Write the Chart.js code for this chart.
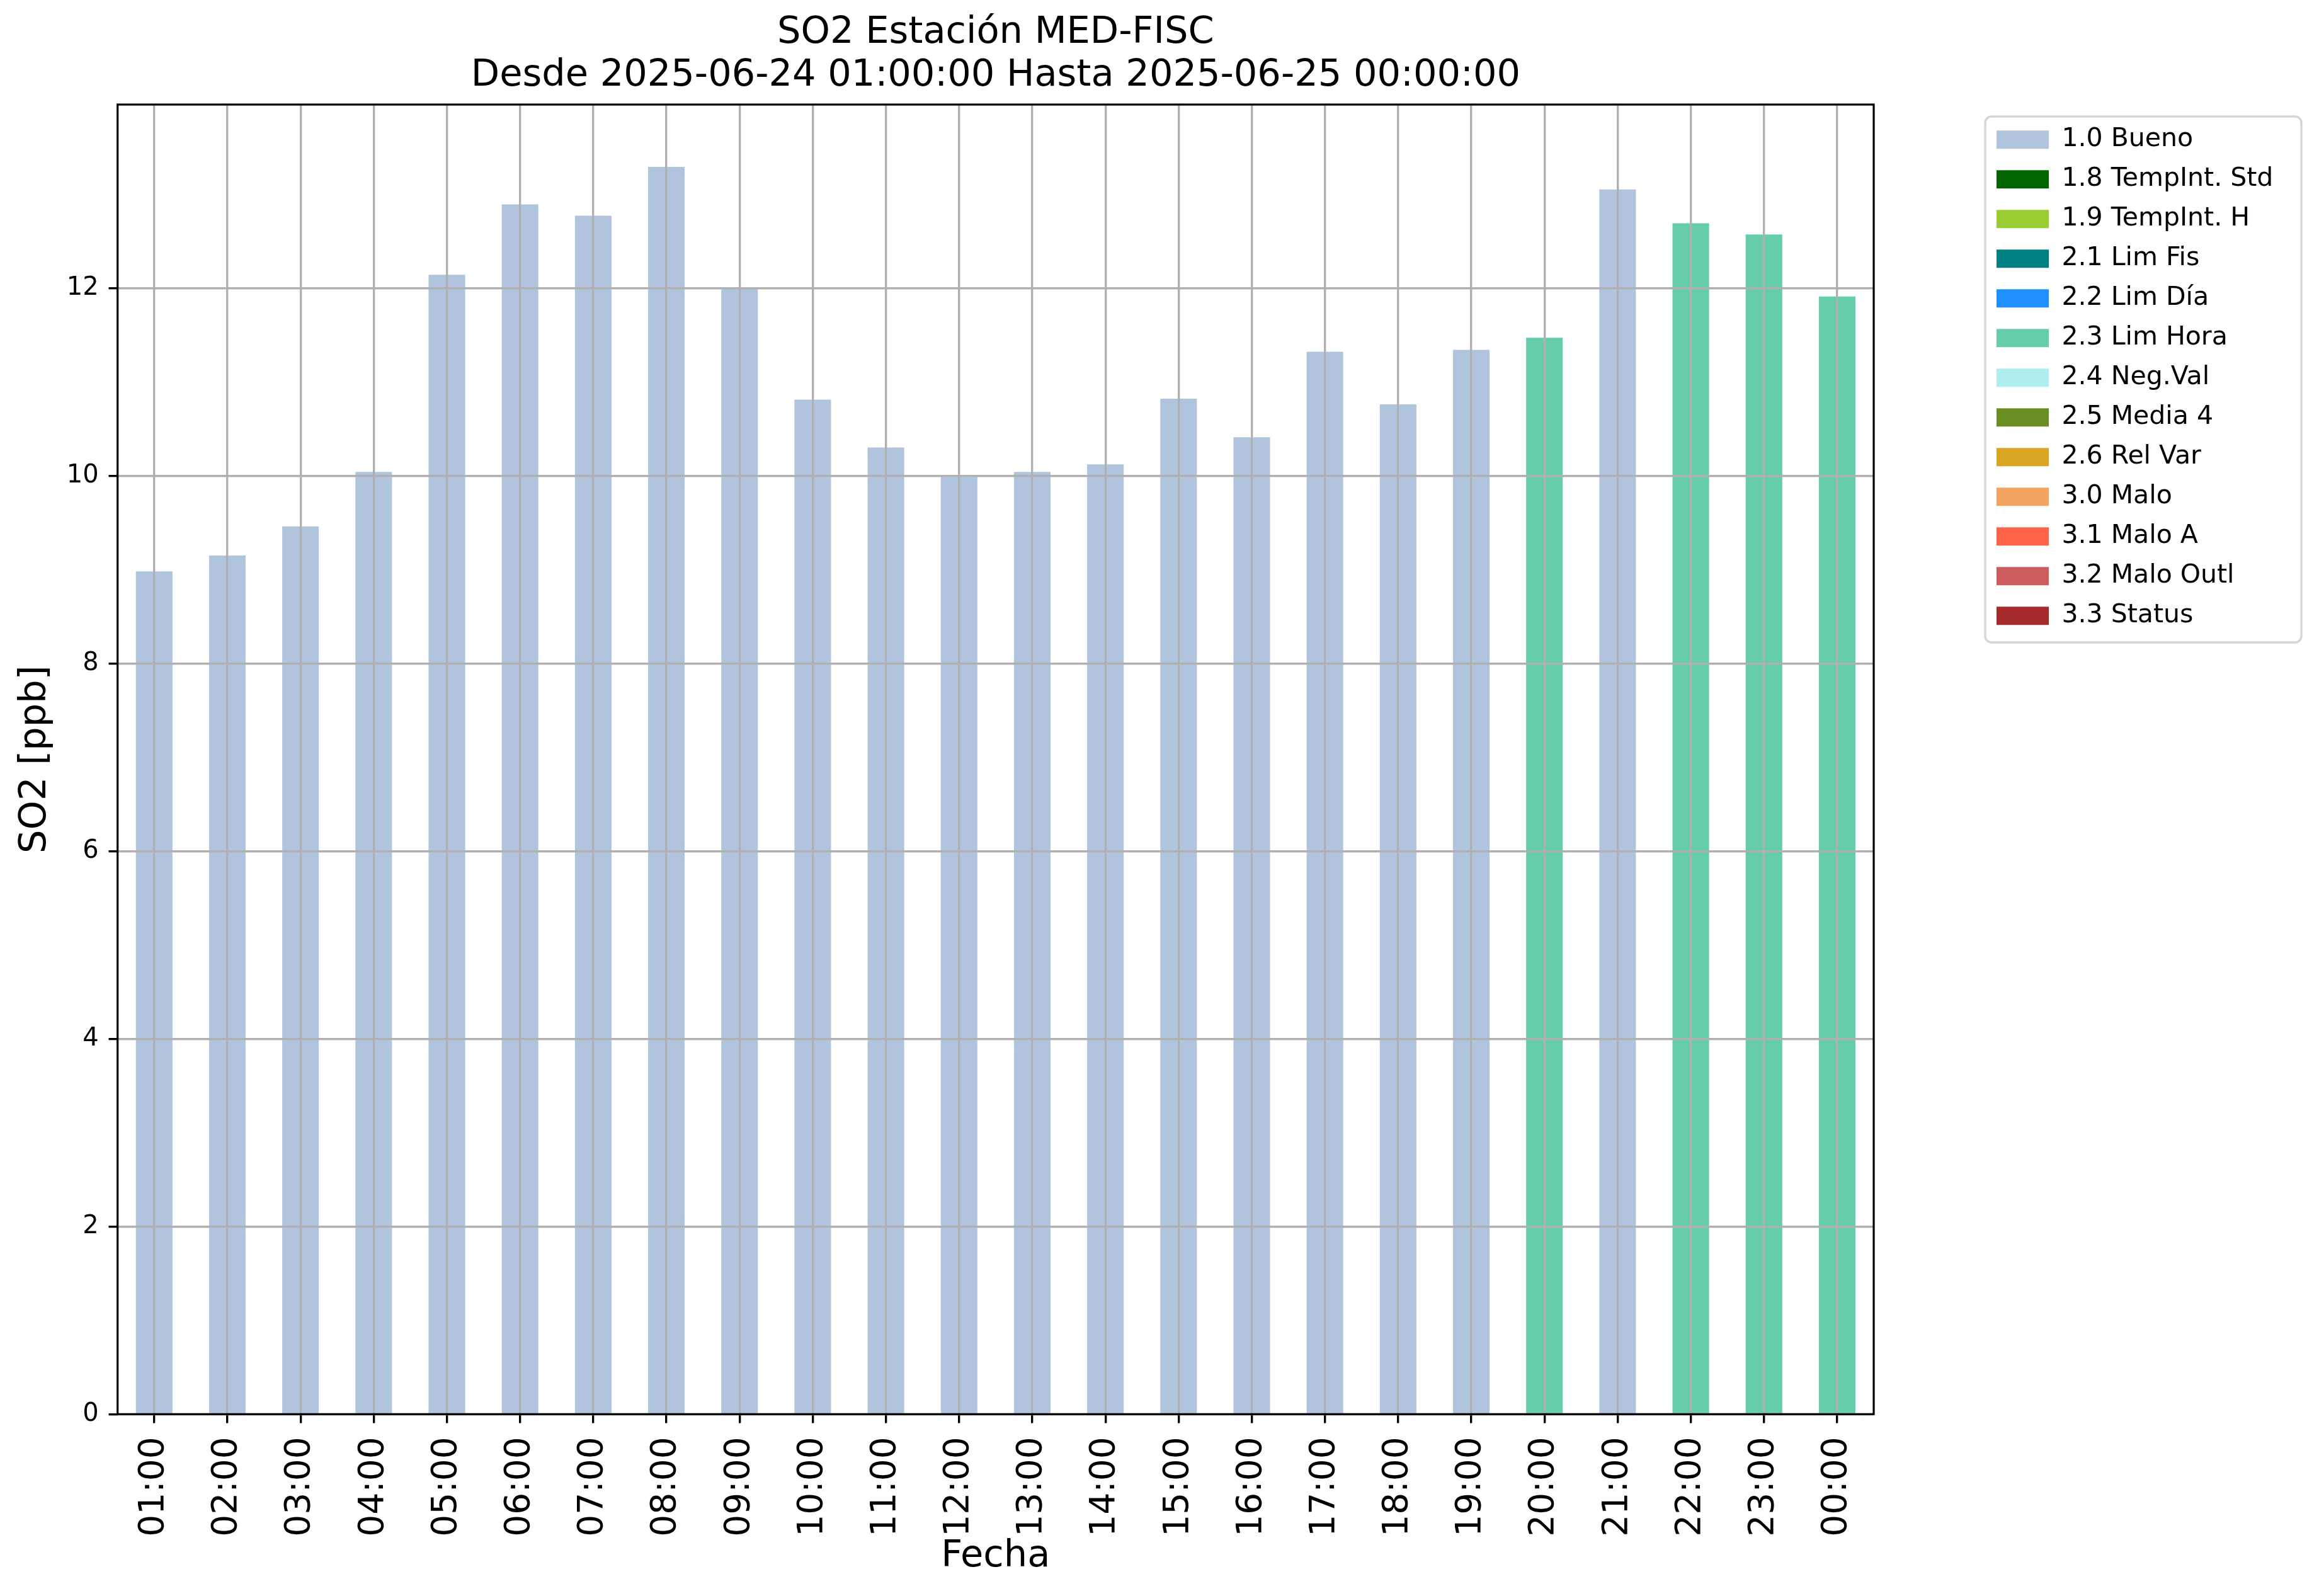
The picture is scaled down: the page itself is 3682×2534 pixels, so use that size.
<!DOCTYPE html>
<html>
<head>
<meta charset="utf-8">
<style>
  html, body { margin: 0; padding: 0; background: #ffffff; }
  #wrap { width: 3682px; height: 2534px; }
</style>
<script src="https://cdn.jsdelivr.net/npm/chart.js@4.4.1/dist/chart.umd.min.js"></script>
</head>
<body>
<div id="wrap"><canvas id="c" width="3682" height="2534" style="width:3682px;height:2534px"></canvas></div>
<script>
// ---- data ----
const hours = ['01:00','02:00','03:00','04:00','05:00','06:00','07:00','08:00','09:00','10:00','11:00','12:00',
               '13:00','14:00','15:00','16:00','17:00','18:00','19:00','20:00','21:00','22:00','23:00','00:00'];
const so2 = [8.98, 9.15, 9.46, 10.04, 12.14, 12.89, 12.77, 13.29, 11.99, 10.81, 10.30, 9.99,
             10.04, 10.12, 10.82, 10.41, 11.32, 10.76, 11.34, 11.47, 13.05, 12.69, 12.57, 11.91];
const hourFlags = ['1.0','1.0','1.0','1.0','1.0','1.0','1.0','1.0','1.0','1.0','1.0','1.0',
                   '1.0','1.0','1.0','1.0','1.0','1.0','1.0','2.3','1.0','2.3','2.3','2.3'];
const flagCodes = ['1.0','1.8','1.9','2.1','2.2','2.3','2.4','2.5','2.6','3.0','3.1','3.2','3.3'];
const flagNames = ['1.0 Bueno','1.8 TempInt. Std','1.9 TempInt. H','2.1 Lim Fis','2.2 Lim Día','2.3 Lim Hora',
                   '2.4 Neg.Val','2.5 Media 4','2.6 Rel Var','3.0 Malo','3.1 Malo A','3.2 Malo Outl','3.3 Status'];
const flagColors = ['#b0c4de','#006400','#9acd32','#008080','#1e90ff','#66cdaa',
                    '#afeeee','#6b8e23','#daa520','#f4a460','#ff6347','#cd5c5c','#a52a2a'];
const yTickStep = 2;
const titleLines = ['SO2 Estación MED-FISC', 'Desde 2025-06-24 01:00:00 Hasta 2025-06-25 00:00:00'];
const yLabel = 'SO2 [ppb]';
const xLabel = 'Fecha';

// ---- build ----
const datasets = flagCodes.map((code, i) => ({
  label: flagNames[i],
  data: so2.map((v, j) => hourFlags[j] === code ? v : null),
  backgroundColor: flagColors[i],
  borderWidth: 0,
  barPercentage: 0.5,
  categoryPercentage: 1.0
}));
const yMax = Math.max(...so2) * 1.05;

Chart.defaults.font.family = 'DejaVu Sans';
Chart.defaults.color = '#000000';

const LW = 3.2;
const GRID = '#b0b0b0';

const overlay = {
  id: 'overlay',
  afterDatasetsDraw(chart) {
    const ctx = chart.ctx;
    const a = chart.chartArea;
    chart.scales.x.drawGrid(a);
    chart.scales.y.drawGrid(a);
    ctx.save();
    ctx.strokeStyle = '#000000';
    ctx.lineWidth = LW;
    ctx.strokeRect(a.left, a.top, a.right - a.left, a.bottom - a.top);
    ctx.restore();
  },
  afterDraw(chart) {
    const lg = chart.legend;
    if (!lg || !lg.legendHitBoxes || !lg.legendHitBoxes.length) return;
    const hb = lg.legendHitBoxes;
    const first = hb[0], last = hb[hb.length - 1];
    const x0 = first.left - 18, y0 = first.top - 16.3;
    const x1 = first.left + 484, y1 = last.top + last.height + 21.7;
    const r = 10;
    const ctx = chart.ctx;
    ctx.save();
    ctx.strokeStyle = '#d6d6d6';
    ctx.lineWidth = 3.4;
    ctx.beginPath();
    ctx.moveTo(x0 + r, y0);
    ctx.lineTo(x1 - r, y0);
    ctx.arcTo(x1, y0, x1, y0 + r, r);
    ctx.lineTo(x1, y1 - r);
    ctx.arcTo(x1, y1, x1 - r, y1, r);
    ctx.lineTo(x0 + r, y1);
    ctx.arcTo(x0, y1, x0, y1 - r, r);
    ctx.lineTo(x0, y0 + r);
    ctx.arcTo(x0, y0, x0 + r, y0, r);
    ctx.closePath();
    ctx.stroke();
    ctx.restore();
  }
};

const chart = new Chart(document.getElementById('c'), {
  type: 'bar',
  data: { labels: hours, datasets: datasets },
  options: {
    responsive: false,
    animation: false,
    devicePixelRatio: 1,
    layout: { padding: { left: 0, top: 0, bottom: 0, right: 64 } },
    plugins: {
      title: {
        display: true,
        text: titleLines,
        fullSize: false,
        color: '#000000',
        font: { family: 'DejaVu Sans', size: 59, weight: 'normal', lineHeight: 68 / 59 },
        padding: { top: 19, bottom: 11 }
      },
      legend: {
        display: true,
        position: 'right',
        align: 'start',
        fullSize: false,
        title: { display: true, text: ' ', font: { size: 10, lineHeight: 1.33 }, padding: 0 },
        labels: {
          boxWidth: 83,
          boxHeight: 29,
          padding: 22,
          color: '#000000',
          font: { family: 'DejaVu Sans', size: 41 }
        }
      },
      tooltip: { enabled: false }
    },
    scales: {
      x: {
        stacked: true,
        offset: true,
        grid: {
          offset: false,
          color: GRID,
          lineWidth: LW,
          tickLength: 14,
          tickColor: '#000000',
          tickWidth: LW
        },
        border: { display: false },
        ticks: {
          autoSkip: false,
          minRotation: 90,
          maxRotation: 90,
          padding: 22,
          color: '#000000',
          font: { family: 'DejaVu Sans', size: 55 }
        },
        title: {
          display: true,
          text: xLabel,
          color: '#000000',
          font: { family: 'DejaVu Sans', size: 59 },
          padding: { top: 0, bottom: 27 }
        },
        afterFit(s) { s.height = 2534 - 2245.3; }
      },
      y: {
        stacked: true,
        min: 0,
        max: yMax,
        grid: {
          color: GRID,
          lineWidth: LW,
          tickLength: 14,
          tickColor: '#000000',
          tickWidth: LW
        },
        border: { display: false },
        ticks: {
          stepSize: yTickStep,
          includeBounds: false,
          padding: 16,
          color: '#000000',
          font: { family: 'DejaVu Sans', size: 40 }
        },
        title: {
          display: true,
          text: yLabel,
          color: '#000000',
          font: { family: 'DejaVu Sans', size: 59 },
          padding: { top: 21, bottom: 0 }
        },
        afterFit(s) { s.width = 186.7; }
      },
      gap: {
        type: 'linear',
        position: 'right',
        display: true,
        grid: { display: false, drawTicks: false },
        border: { display: false },
        ticks: { display: false },
        title: { display: false },
        afterFit(s) { s.width = 173; }
      }
    }
  },
  plugins: [overlay]
});

// place the legend so its first swatch starts where the reference's does
const padR = 3682 - 3148 - chart.legend.width;
chart.options.layout.padding.right = padR;
chart.update('none');
</script>
</body>
</html>
